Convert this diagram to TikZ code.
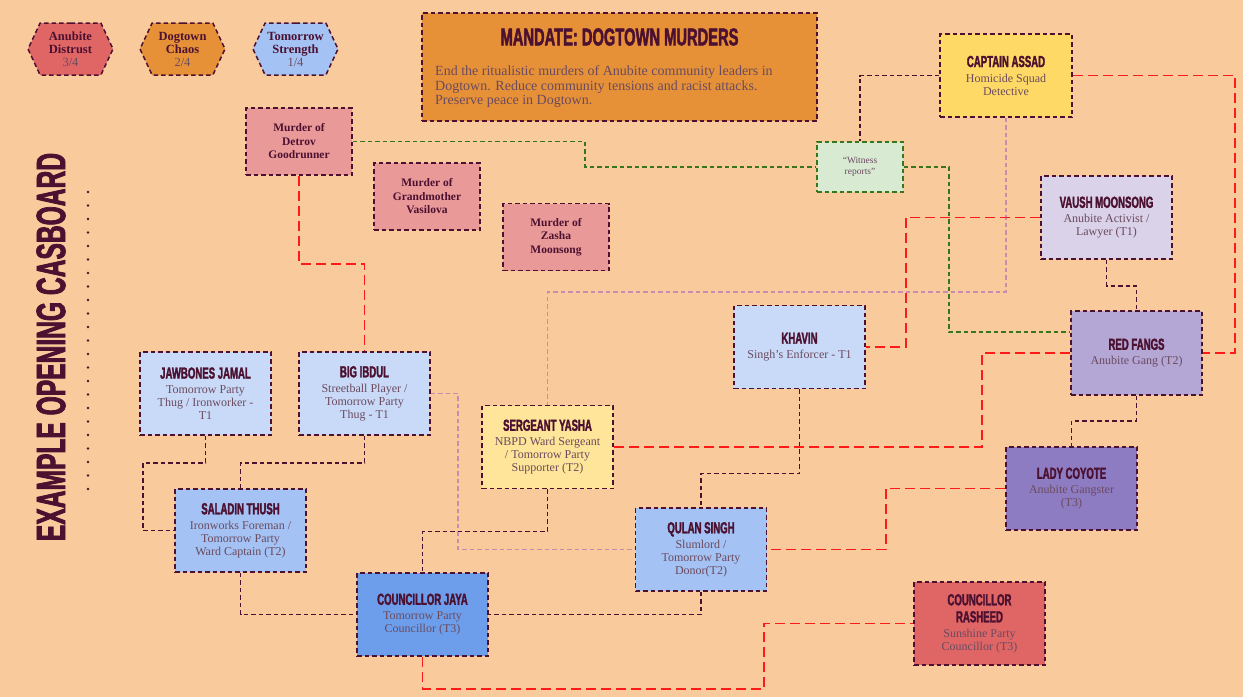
\documentclass[tikz,border=0pt]{standalone}
\usepackage{fontspec}
\setmainfont{Liberation Serif}
\newfontfamily\headfont{Liberation Sans}[FakeStretch=0.6, FakeBold=1.8]
\usepackage{xcolor}
\usepackage{tikz}
\usetikzlibrary{shapes.symbols}
\definecolor{cBg}{HTML}{F9CB9C}
\definecolor{cInk}{HTML}{4C1130}
\definecolor{cSub}{HTML}{6B4A5E}
\definecolor{cDistrust}{HTML}{E06666}
\definecolor{cChaos}{HTML}{E69138}
\definecolor{cStrength}{HTML}{A4C2F4}
\definecolor{cMurder}{HTML}{EA9999}
\definecolor{cAssad}{HTML}{FFD966}
\definecolor{cWitness}{HTML}{D9EAD3}
\definecolor{cGreen}{HTML}{38761D}
\definecolor{cVaush}{HTML}{D9D2E9}
\definecolor{cFangs}{HTML}{B4A7D6}
\definecolor{cCoyote}{HTML}{8E7CC3}
\definecolor{cThug}{HTML}{C9DAF8}
\definecolor{cParty}{HTML}{A4C2F4}
\definecolor{cJaya}{HTML}{6D9EEB}
\definecolor{cYasha}{HTML}{FFE599}
\definecolor{cRasheed}{HTML}{E06666}
\definecolor{cRed}{HTML}{FF1A1A}
\definecolor{cPink}{HTML}{C98BAE}
\newcommand{\cardname}[1]{{\headfont\bfseries\fontsize{16}{16}\selectfont\color{cInk}#1}}
\tikzset{
  card/.style    = {draw=cInk, line width=1.5pt, dash pattern=on 4.5pt off 3pt,
                    align=center, inner sep=0pt, minimum width=131pt,
                    minimum height=83pt, text=cSub,
                    font=\fontsize{12}{13}\selectfont},
  murder/.style  = {card, fill=cMurder, minimum width=106pt, minimum height=67pt,
                    text=cInk, font=\bfseries\fontsize{11.5}{13.5}\selectfont},
  badge/.style   = {shape=signal, signal to=west and east,
                    signal pointer angle=130, draw=cInk, line width=1.5pt,
                    dash pattern=on 4.5pt off 3pt, align=center, inner sep=0pt,
                    minimum width=85pt, minimum height=52pt, text=cSub,
                    font=\fontsize{12.5}{13}\selectfont},
  link/.style    = {line width=1.5pt, dash pattern=on 4.5pt off 3pt},
  darklink/.style  = {link, draw=cInk},
  redlink/.style   = {line width=1.5pt, dash pattern=on 10pt off 5pt, draw=cRed},
  greenlink/.style = {link, line width=1.4pt, draw=cGreen},
  pinklink/.style  = {link, line width=1.4pt, draw=cPink},
}
\begin{document}
\begin{tikzpicture}[x=1pt, y=-1pt]
  \fill[cBg] (0,0) rectangle (1243,697);
  % tracks
  \node[badge, fill=cDistrust] (distrust) at (70.5,49)
    {\textbf{\color{cInk}Anubite}\\ \textbf{\color{cInk}Distrust}\\ 3/4};
  \node[badge, fill=cChaos] (chaos) at (182.5,49)
    {\textbf{\color{cInk}Dogtown}\\ \textbf{\color{cInk}Chaos}\\ 2/4};
  \node[badge, fill=cStrength] (strength) at (295.5,49)
    {\textbf{\color{cInk}Tomorrow}\\ \textbf{\color{cInk}Strength}\\ 1/4};
  % side title
  \node[rotate=90, text=cInk, font=\headfont\bfseries\fontsize{41}{41}\selectfont]
    (boardtitle) at (51,347) {EXAMPLE OPENING CASBOARD};
  \draw[cInk, line width=2.8pt, line cap=round, dash pattern=on 0pt off 13.5pt]
    (88,192) -- (88,497);
  % mandate
  \node[card, fill=cChaos, minimum width=395pt, minimum height=108pt]
    (mandate) at (619.5,67) {};
  \node[text=cInk, font=\headfont\bfseries\fontsize{24.5}{25}\selectfont]
    (mandatetitle) at (619.5,37) {MANDATE: DOGTOWN MURDERS};
  \node[anchor=west, align=left, inner sep=0pt, text=cSub,
        font=\fontsize{14}{14.5}\selectfont] (mandatetext) at (435,87)
    {End the ritualistic murders of Anubite community leaders in\\
     Dogtown. Reduce community tensions and racist attacks.\\
     Preserve peace in Dogtown.};
  % murders
  \node[murder] (detrov) at (299,141.5) {Murder of\\ Detrov\\ Goodrunner};
  \node[murder] (vasilova) at (427,196.5) {Murder of\\ Grandmother\\ Vasilova};
  \node[murder] (zasha) at (556,237) {Murder of\\ Zasha\\ Moonsong};
  % police and witnesses
  \node[card, fill=cAssad, minimum width=132pt] (assad) at (1006,75.5)
    {\cardname{CAPTAIN ASSAD}\\[2pt] Homicide Squad\\ Detective};
  \node[card, fill=cWitness, draw=cGreen, minimum width=86pt, minimum height=50pt,
        font=\fontsize{9.5}{11}\selectfont] (witness) at (860,167)
    {“Witness\\ reports”};
  % anubite side
  \node[card, fill=cVaush] (vaush) at (1106.5,217.5)
    {\cardname{VAUSH MOONSONG}\\[2pt] Anubite Activist /\\ Lawyer (T1)};
  \node[card, fill=cFangs, minimum height=84pt] (redfangs) at (1136.5,353)
    {\cardname{RED FANGS}\\[2pt] Anubite Gang (T2)};
  \node[card, fill=cCoyote] (coyote) at (1071.5,488.5)
    {\cardname{LADY COYOTE}\\[2pt] Anubite Gangster\\ (T3)};
  % tomorrow party side
  \node[card, fill=cThug] (jawbones) at (205.5,393.5)
    {\cardname{JAWBONES JAMAL}\\[2pt] Tomorrow Party\\ Thug / Ironworker -\\ T1};
  \node[card, fill=cThug] (ibdul) at (364.5,393.5)
    {\cardname{BIG IBDUL}\\[2pt] Streetball Player /\\ Tomorrow Party\\ Thug - T1};
  \node[card, fill=cParty] (saladin) at (240.5,530.5)
    {\cardname{SALADIN THUSH}\\[2pt] Ironworks Foreman /\\ Tomorrow Party\\ Ward Captain (T2)};
  \node[card, fill=cYasha] (yasha) at (547.5,447)
    {\cardname{SERGEANT YASHA}\\[2pt] NBPD Ward Sergeant\\ / Tomorrow Party\\ Supporter (T2)};
  \node[card, fill=cThug] (khavin) at (799.5,347)
    {\cardname{KHAVIN}\\[2pt] Singh’s Enforcer - T1};
  \node[card, fill=cParty] (qulan) at (701,549.5)
    {\cardname{QULAN SINGH}\\[2pt] Slumlord /\\ Tomorrow Party\\ Donor(T2)};
  \node[card, fill=cJaya] (jaya) at (422.5,614.5)
    {\cardname{COUNCILLOR JAYA}\\[2pt] Tomorrow Party\\ Councillor (T3)};
  \node[card, fill=cRasheed] (rasheed) at (979.5,623.5)
    {\cardname{COUNCILLOR}\\[4pt] \cardname{RASHEED}\\[2pt] Sunshine Party\\ Councillor (T3)};
  % connections
  \draw[greenlink] (detrov.east) -| (585,167) -- (witness.west);
  \draw[greenlink] (witness.east) -| (949,332) -- ([yshift=21pt]redfangs.west);
  \draw[darklink] (assad.west) -| (witness.north);
  \draw[redlink] (assad.east) -| (1235,353) -- (redfangs.east);
  \draw[pinklink] (assad.south) -- (1006,292) -| (yasha.north);
  \draw[redlink] (vaush.west) -| (906,347) -- (khavin.east);
  \draw[darklink] (vaush.south) -- ++(0,26) -| (redfangs.north);
  \draw[redlink] (redfangs.west) -| (982,447) -- (yasha.east);
  \draw[darklink] (redfangs.south) -- ++(0,25) -| (coyote.north);
  \draw[redlink] (coyote.west) -| (886,549.5) -- (qulan.east);
  \draw[darklink] (khavin.south) -- ++(0,84) -| (qulan.north);
  \draw[darklink] (qulan.south) |- (jaya.east);
  \draw[redlink] (jaya.south) -- ++(0,32) -| (764,623.5) -- (rasheed.west);
  \draw[pinklink] (ibdul.east) -| (458,549.5) -- (qulan.west);
  \draw[darklink] (yasha.south) -- ++(0,42) -| (jaya.north);
  \draw[darklink] (saladin.south) |- (jaya.west);
  \draw[darklink] (jawbones.south) -- ++(0,27) -| (143,530.5) -- (saladin.west);
  \draw[darklink] (ibdul.south) -- ++(0,27) -| (saladin.north);
  \draw[redlink] (detrov.south) -- ++(0,88) -| (ibdul.north);
\end{tikzpicture}
\end{document}
